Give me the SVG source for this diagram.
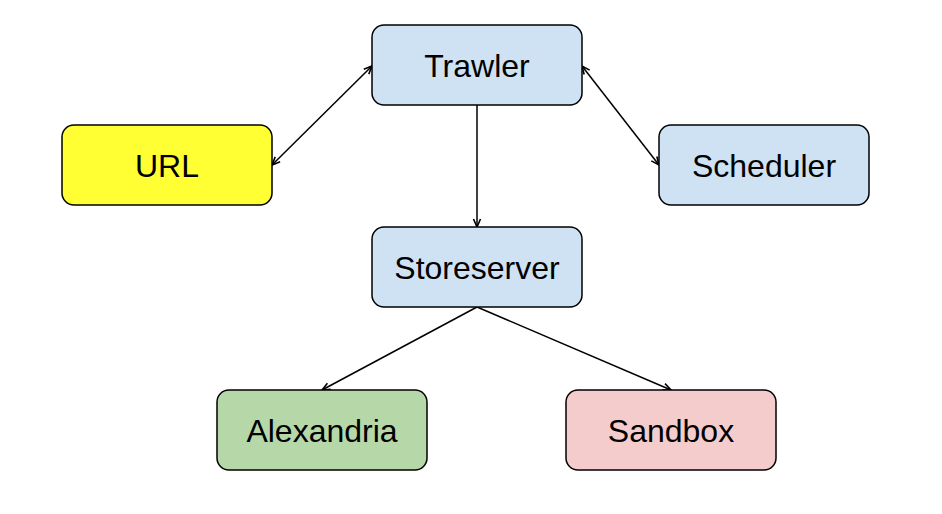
<svg xmlns="http://www.w3.org/2000/svg" width="942" height="514" viewBox="0 0 942 514">
<style>
.n{stroke:#000;stroke-width:1.5}
.t{font-family:"Liberation Sans",Arial,sans-serif;font-size:32px;fill:#000;text-anchor:middle}
.c{stroke:#000;stroke-width:1.5;fill:none}
</style>
<defs>
<marker id="ah" viewBox="0 0 10 10" refX="9" refY="5" markerWidth="10" markerHeight="10" markerUnits="userSpaceOnUse" orient="auto-start-reverse">
<path d="M1,1.5 L9,5 L1,8.5" fill="none" stroke="#000" stroke-width="1.6"/>
</marker>
</defs>
<rect width="942" height="514" fill="#fff"/>
<g id="connectors">
<line class="c" x1="372" y1="66" x2="272" y2="165" marker-start="url(#ah)" marker-end="url(#ah)"/>
<line class="c" x1="582" y1="66" x2="659" y2="165" marker-start="url(#ah)" marker-end="url(#ah)"/>
<line class="c" x1="477" y1="105" x2="477" y2="227" marker-end="url(#ah)"/>
<line class="c" x1="477" y1="307" x2="322" y2="390" marker-end="url(#ah)"/>
<line class="c" x1="477" y1="307" x2="671" y2="390" marker-end="url(#ah)"/>
</g>
<g id="trawler"><rect class="n" x="372" y="25" width="210" height="80" rx="12" fill="#cfe2f3"/><text class="t" x="477" y="77">Trawler</text></g>
<g id="url"><rect class="n" x="62" y="125" width="210" height="80" rx="12" fill="#ffff33"/><text class="t" x="167" y="177">URL</text></g>
<g id="scheduler"><rect class="n" x="659" y="125" width="210" height="80" rx="12" fill="#cfe2f3"/><text class="t" x="764" y="177">Scheduler</text></g>
<g id="storeserver"><rect class="n" x="372" y="227" width="210" height="80" rx="12" fill="#cfe2f3"/><text class="t" x="477" y="279">Storeserver</text></g>
<g id="alexandria"><rect class="n" x="217" y="390" width="210" height="80" rx="12" fill="#b6d7a8"/><text class="t" x="322" y="442">Alexandria</text></g>
<g id="sandbox"><rect class="n" x="566" y="390" width="210" height="80" rx="12" fill="#f4cccc"/><text class="t" x="671" y="442">Sandbox</text></g>
</svg>
